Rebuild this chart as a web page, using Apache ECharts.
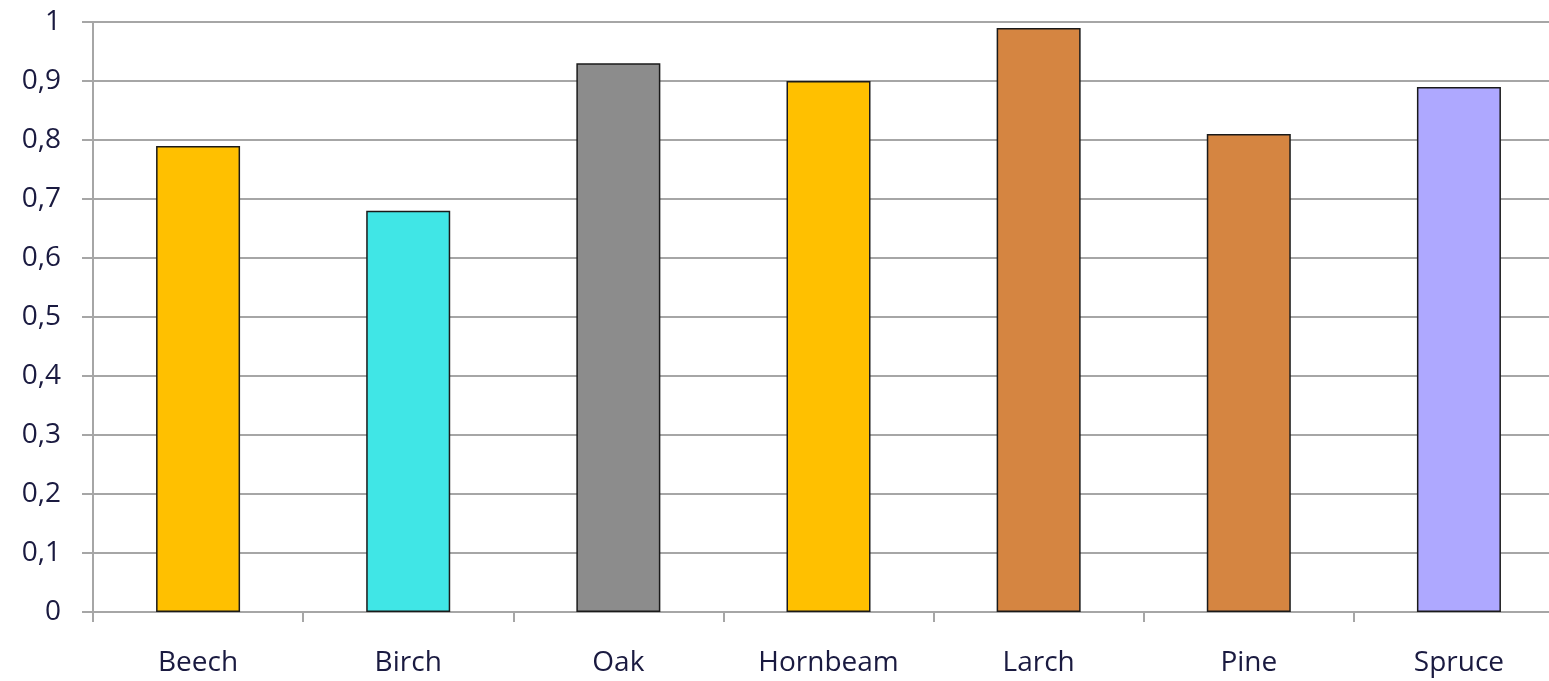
<!DOCTYPE html>
<html>
<head>
<meta charset="utf-8">
<script src="https://cdn.jsdelivr.net/npm/echarts@6/dist/echarts.min.js"></script>
<style>
  html, body { margin: 0; padding: 0; background: #fff; overflow: hidden; }
  /* a bit wider than the window: the plot runs past the right edge like in the reference */
  #chart { width: 1564px; height: 681px; }
</style>
</head>
<body>
<div id="chart"></div>
<script>
// values
const species = ['Beech', 'Birch', 'Oak', 'Hornbeam', 'Larch', 'Pine', 'Spruce']
const ratios = [0.79, 0.68, 0.93, 0.90, 0.99, 0.81, 0.89]
const barColors = ['#FFC000', '#40E6E6', '#8C8C8C', '#FFC000', '#D58541', '#D58541', '#AEA8FF']

const textColor = '#1a1a40'
const lineColor = '#a6a6a6'

const chart = echarts.init(document.getElementById('chart'))

chart.setOption({
  animation: false,
  grid: { left: 93, right: 0, top: 22, bottom: 69, containLabel: false },
  xAxis: {
    type: 'category',
    data: species,
    axisLine: { lineStyle: { color: lineColor, width: 2 } },
    axisTick: { show: true, length: 10, lineStyle: { color: lineColor, width: 2 } },
    axisLabel: { fontFamily: 'Open Sans', fontSize: 28, color: textColor, margin: 37 },
  },
  yAxis: {
    type: 'value',
    min: 0,
    max: 1,
    interval: 0.1,
    axisLine: { show: true, lineStyle: { color: lineColor, width: 2 } },
    axisTick: { show: true, length: 11, lineStyle: { color: lineColor, width: 2 } },
    splitLine: { lineStyle: { color: lineColor, width: 2 } },
    axisLabel: {
      fontFamily: 'Open Sans',
      fontSize: 28,
      color: textColor,
      margin: 32,
      formatter: (v) => (Math.round(v * 10) / 10).toString().replace('.', ','),
    },
  },
  series: [
    {
      type: 'bar',
      data: ratios.map((v, i) => ({ value: v, itemStyle: { color: barColors[i] } })),
      barWidth: 84,
      itemStyle: { borderColor: '#1a1a1a', borderWidth: 1.5 },
    },
  ],
})
</script>
</body>
</html>
